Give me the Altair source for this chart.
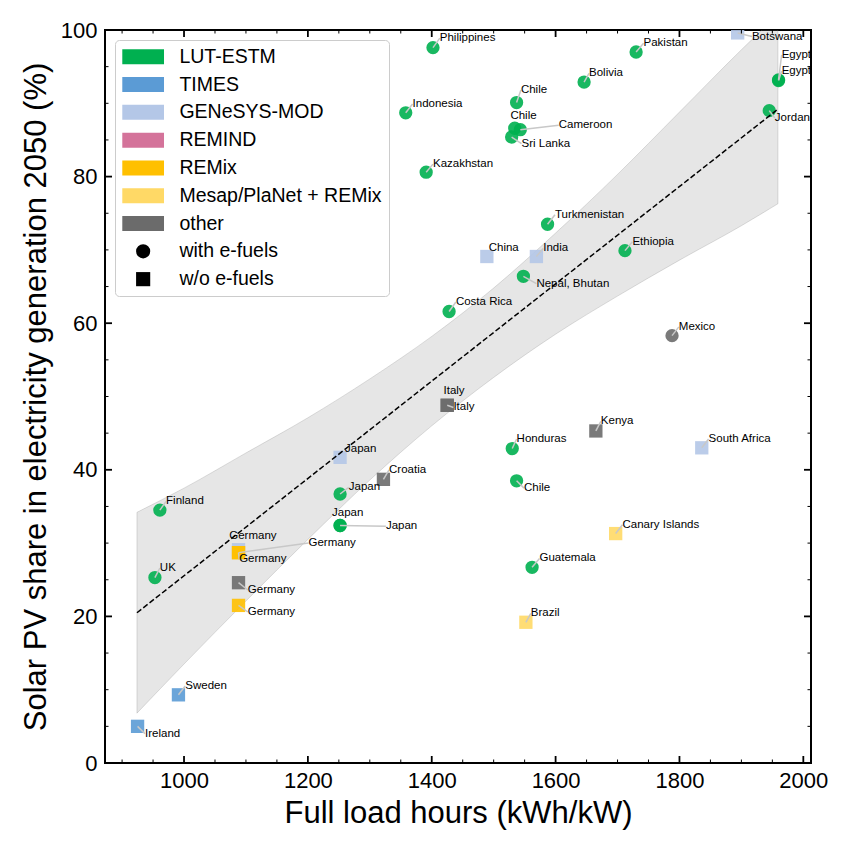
import altair as alt
import pandas as pd

# ---------------- data ----------------
NAMES = ["Philippines", "Pakistan", "Bolivia", "Chile", "Indonesia", "Chile", "Cameroon",
         "Sri Lanka", "Kazakhstan", "Egypt", "Egypt", "Jordan", "Turkmenistan", "Ethiopia",
         "Nepal, Bhutan", "Costa Rica", "Honduras", "Chile", "Guatemala", "Finland", "UK",
         "Japan", "Japan", "Japan", "Mexico", "Sweden", "Ireland", "Botswana", "China", "India",
         "South Africa", "Japan", "Germany", "Germany", "Germany", "Germany", "Germany",
         "Croatia", "Italy", "Italy", "Kenya", "Canary Islands", "Brazil"]
MODELS = ["LUT-ESTM"] * 24 + ["other", "TIMES", "TIMES"] + ["GENeSYS-MOD"] * 6 + \
         ["REMix", "REMix", "REMix", "other", "other", "other", "other", "other",
          "Mesap/PlaNet + REMix", "Mesap/PlaNet + REMix"]
EFUEL = ["with e-fuels"] * 25 + ["w/o e-fuels"] * 18
FLH = [1402, 1730, 1646, 1537, 1358, 1534, 1543, 1529, 1391, 1960, 1960, 1945, 1587, 1712,
       1548, 1428, 1530, 1537, 1562, 961, 953, 1252, 1252, 1252, 1788, 991, 925, 1894, 1489,
       1569, 1836, 1252, 1088, 1088, 1088, 1088, 1088, 1322, 1425, 1425, 1665, 1697, 1552]
SHARE = [97.6, 97.0, 92.9, 90.1, 88.7, 86.6, 86.4, 85.4, 80.6, 93.2, 93.1, 89.0, 73.5, 69.9,
         66.4, 61.6, 42.9, 38.5, 26.7, 34.5, 25.3, 36.7, 32.4, 32.4, 58.3, 9.3, 5.0, 99.6, 69.1,
         69.1, 43.0, 41.7, 29.1, 28.7, 28.7, 21.5, 24.6, 38.7, 48.8, 48.8, 45.3, 31.3, 19.2]
LABEL_X = [1413, 1742, 1654, 1544, 1369, 1527, 1605, 1545, 1402, 1965, 1965, 1954, 1599, 1724,
           1569, 1439, 1537, 1549, 1574, 971, 961, 1266, 1239, 1326, 1799, 1002, 937, 1917,
           1492, 1580, 1847, 1260, 1073, 1201, 1089, 1103, 1103, 1331, 1419, 1435, 1673, 1708,
           1560]
LABEL_Y = [98.9, 98.2, 94.1, 91.8, 89.9, 88.2, 87.0, 84.5, 81.7, 96.6, 94.4, 88.0, 74.8, 71.1,
           65.4, 62.9, 44.2, 37.5, 27.9, 35.7, 26.6, 37.6, 34.1, 32.3, 59.5, 10.5, 4.0, 99.1,
           70.2, 70.2, 44.2, 42.9, 31.0, 30.0, 27.8, 20.6, 23.6, 40.0, 50.8, 48.5, 46.6, 32.5,
           20.4]
LEADER = [True, True, True, True, True, False, True, True, True, True, True, True, True, True,
          True, True, True, True, True, True, True, True, False, True, True, True, True, True,
          False, True, True, False, False, True, True, True, True, True, False, True, True,
          True, True]

MODEL_ORDER = ["LUT-ESTM", "TIMES", "GENeSYS-MOD", "REMIND", "REMix",
               "Mesap/PlaNet + REMix", "other"]
MODEL_COLORS = ["#00b050", "#5b9bd5", "#b4c7e7", "#d4739a", "#ffc000", "#ffd966", "#6b6b6b"]
EFUEL_ORDER = ["with e-fuels", "w/o e-fuels"]

FIT_X = [924, 1959]
FIT_Y = [20.5, 89.2]
BAND_X = [924, 1000, 1100, 1200, 1300, 1400, 1500, 1600, 1700, 1800, 1900, 1959]
BAND_HI = [34.2, 37.5, 42.3, 47.1, 52.4, 58.2, 64.8, 72.3, 80.3, 88.8, 97.3, 102.1]
BAND_LO = [6.8, 13.5, 22.1, 30.5, 38.6, 46.0, 52.6, 58.5, 63.7, 68.6, 73.3, 76.3]

X_MAJOR = [1000, 1200, 1400, 1600, 1800, 2000]
X_MINOR = [900, 950, 1050, 1100, 1150, 1250, 1300, 1350, 1450, 1500, 1550, 1650, 1700,
           1750, 1850, 1900, 1950]
Y_MAJOR = [0, 20, 40, 60, 80, 100]
Y_MINOR = [5, 10, 15, 25, 30, 35, 45, 50, 55, 65, 70, 75, 85, 90, 95]
X_DOMAIN = [872.4, 2012.4]
Y_DOMAIN = [0, 100]

X_TITLE = "Full load hours (kWh/kW)"
Y_TITLE = "Solar PV share in electricity generation 2050 (%)"

# ---------------- chart ----------------
FONT = "Liberation Sans"
W, H = 706, 733
RECT = "M-2.95,-1.06H2.95V1.06H-2.95Z"

pts = pd.DataFrame({"name": NAMES, "model": MODELS, "efuel": EFUEL, "flh": FLH,
                    "share": SHARE, "lx": LABEL_X, "ly": LABEL_Y, "lead": LEADER})
band_df = pd.DataFrame({"bx": BAND_X, "hi": BAND_HI, "lo": BAND_LO})
fit_df = pd.DataFrame({"fx": FIT_X, "fy": FIT_Y})

entries = MODEL_ORDER + EFUEL_ORDER
xs = alt.Scale(domain=X_DOMAIN, nice=False, zero=False)
ys = alt.Scale(domain=Y_DOMAIN, nice=False, zero=False)
xaxis = alt.Axis(values=X_MAJOR, format="d", title=X_TITLE, labelPadding=7,
                 titleX=W / 2, titleY=59, titleBaseline="alphabetic")
yaxis = alt.Axis(values=Y_MAJOR, format="d", title=Y_TITLE, labelPadding=8,
                 titleX=-60, titleY=H / 2, titleBaseline="alphabetic")


def X(f):
    return alt.X(f, scale=xs, axis=xaxis)


def Y(f):
    return alt.Y(f, scale=ys, axis=yaxis)


legend = alt.Legend(orient="none", legendX=10, legendY=10, title=None, padding=7,
                    rowPadding=6.8, symbolSize=200, symbolOffset=11.4, labelOffset=26.5,
                    labelFont=FONT, labelFontSize=19.5, labelColor="black", labelLimit=400,
                    strokeColor="#cccccc", fillColor="white", cornerRadius=4,
                    symbolStrokeWidth=0, symbolOpacity=1)

band = alt.Chart(band_df).mark_area(
    fill="#808080", fillOpacity=0.2, stroke="#808080", strokeOpacity=0.25, strokeWidth=1,
    clip=True, interpolate="monotone"
).encode(x=X("bx:Q"), y=Y("hi:Q"), y2="lo:Q")

points = alt.Chart(pts).mark_point(filled=True, size=177, opacity=0.9, strokeWidth=0,
                                   clip=True).encode(
    x=X("flh:Q"),
    y=Y("share:Q"),
    color=alt.Color("model:N", scale=alt.Scale(domain=entries,
                    range=MODEL_COLORS + ["black", "black"]), legend=legend),
    shape=alt.Shape("efuel:N", scale=alt.Scale(domain=entries,
                    range=[RECT] * 7 + ["circle", "square"]), legend=legend),
)

fit = alt.Chart(fit_df).mark_line(color="black", strokeDash=[5.5, 2.5], strokeWidth=1.5).encode(
    x=X("fx:Q"), y=Y("fy:Q"))

leaders = alt.Chart(pts).transform_filter("datum.lead").mark_rule(
    color="#c8c8c8", strokeWidth=1.5, clip=True).encode(
    x=X("flh:Q"), y=Y("share:Q"), x2="lx:Q", y2="ly:Q")

labels = alt.Chart(pts).mark_text(align="left", baseline="middle", font=FONT, fontSize=11.5,
                                  color="black", clip=True).encode(
    x=X("lx:Q"), y=Y("ly:Q"), text="name:N")


def xticks(vals, length, sw):
    d = pd.DataFrame({"v": vals})
    bot = alt.Chart(d).mark_rule(color="black", strokeWidth=sw).encode(
        x=X("v:Q"), y=alt.value(H), y2=alt.value(H - length))
    top = alt.Chart(d).mark_rule(color="black", strokeWidth=sw).encode(
        x=X("v:Q"), y=alt.value(0), y2=alt.value(length))
    return [bot, top]


def yticks(vals, length, sw):
    d = pd.DataFrame({"v": vals})
    left = alt.Chart(d).mark_rule(color="black", strokeWidth=sw).encode(
        y=Y("v:Q"), x=alt.value(0), x2=alt.value(length))
    right = alt.Chart(d).mark_rule(color="black", strokeWidth=sw).encode(
        y=Y("v:Q"), x=alt.value(W), x2=alt.value(W - length))
    return [left, right]


tick_layers = xticks(X_MAJOR, 7, 1.8) + xticks(X_MINOR, 3.5, 1) + \
    yticks(Y_MAJOR, 7, 1.8) + yticks(Y_MINOR, 3.5, 1)

chart = alt.layer(band, points, fit, leaders, labels, *tick_layers).properties(
    width=W, height=H,
    autosize=alt.AutoSizeParams(type="none"),
    padding={"left": 97, "top": 22, "right": 32, "bottom": 80},
).configure_view(stroke="black", strokeWidth=2).configure_axis(
    grid=False, domain=False, ticks=False, labelFont=FONT, labelFontSize=22,
    labelColor="black", titleFont=FONT, titleFontSize=31, titleFontWeight="normal",
    titleColor="black")

chart.save("out.html", embed_options={"renderer": "svg", "actions": False})
